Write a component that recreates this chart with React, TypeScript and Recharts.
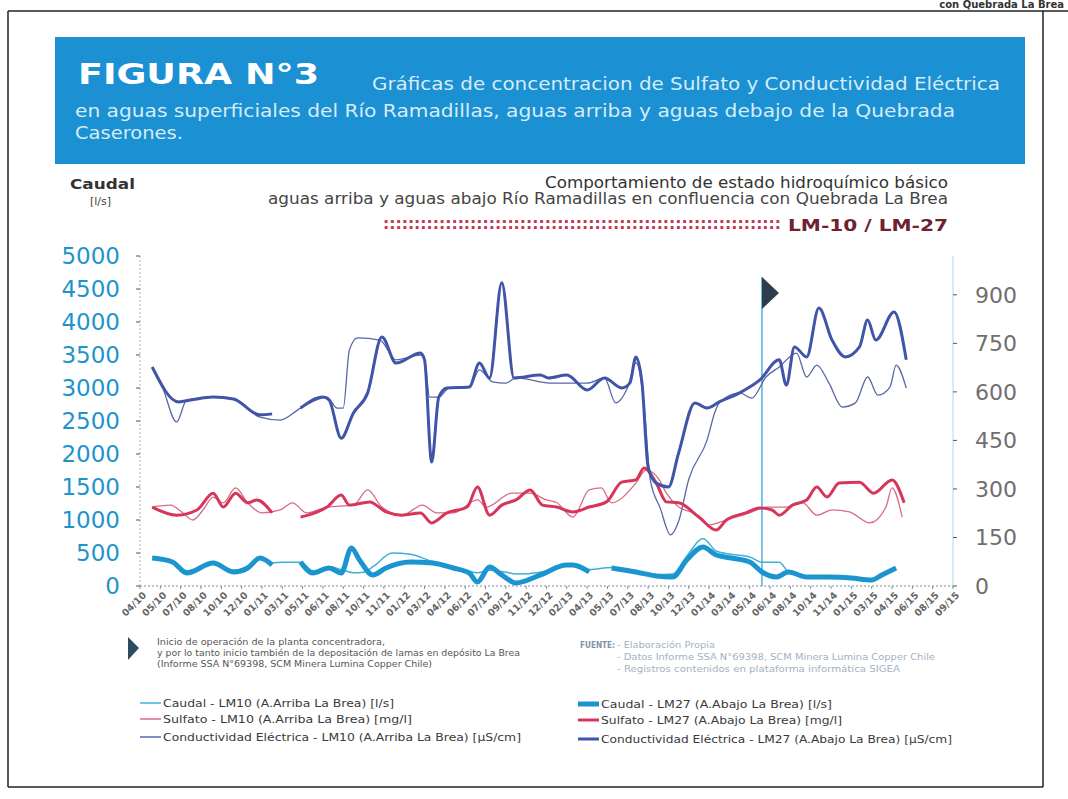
import React from 'react';
import { LineChart, Line, XAxis, YAxis, ReferenceLine } from 'recharts';

// etiquetas del eje X (mes/año)
const fechas = [
  '04/10', '05/10', '07/10', '08/10', '10/10', '12/10', '01/11', '03/11', '05/11', '06/11',
  '08/11', '10/11', '11/11', '01/12', '03/12', '04/12', '06/12', '07/12', '09/12', '11/12',
  '12/12', '02/13', '04/13', '05/13', '07/13', '08/13', '10/13', '12/13', '01/14', '03/14',
  '05/14', '06/14', '08/14', '10/14', '11/14', '01/15', '03/15', '04/15', '06/15', '08/15', '09/15'
];
const posFechas = fechas.map((_, i) => i);

const ticksCaudal = [0, 500, 1000, 1500, 2000, 2500, 3000, 3500, 4000, 4500, 5000];
const ticksDerecha = [0, 150, 300, 450, 600, 750, 900];

// inicio de operación planta (posición en el eje de fechas)
const inicioOperacion = 30.6;

// [posición fecha, valor]  -- null corta la línea
type Punto = [number, number | null];

const caudalLM10: Punto[] = [
  [0.6, 440], [1.6, 380], [2.3, 230], [3.6, 350], [4.6, 240], [5.3, 290], [5.9, 410], [6.5, 350],
  [7.0, 360], [7.9, 360], [8.5, 230], [9.3, 290], [10.0, 240], [10.5, 200], [11.0, 210], [11.5, 300],
  [12.4, 500], [13.3, 480], [14.4, 370], [15.4, 300], [16.6, 200], [17.2, 240], [18.0, 210], [18.5, 180],
  [19.7, 210], [21.0, 330], [22.1, 250], [23.2, 280], [24.4, 230], [25.4, 170], [26.2, 180], [26.9, 450],
  [27.7, 720], [28.35, 530], [29.1, 480], [30.0, 440], [30.6, 360], [31.45, 360], [31.9, 210], [32.5, 150]
];

const caudalLM27: Punto[] = [
  [0.6, 424], [1.6, 364], [2.3, 197], [3.6, 348], [4.6, 212], [5.3, 273], [5.9, 424], [6.5, 318],
  [7.2, null],
  [7.9, 364], [8.5, 197], [9.3, 273], [9.9, 197], [10.4, 576], [10.8, 394], [11.45, 167], [12.1, 273],
  [13.3, 364], [14.4, 348], [15.4, 273], [16.2, 197], [16.6, 61], [17.2, 288], [17.8, 167], [18.5, 45],
  [19.7, 167], [21.0, 318], [21.3, 318], [22.1, 212],
  [22.6, null],
  [23.2, 273], [24.4, 212], [25.4, 152], [26.2, 136], [26.9, 394], [27.7, 591], [28.35, 470], [29.1, 424],
  [30.0, 364], [30.6, 212], [31.3, 136], [31.9, 212], [32.8, 136], [33.9, 136], [35.0, 121], [36.0, 91],
  [36.5, 167], [37.2, 273]
];

const sulfatoLM10: Punto[] = [
  [0.6, 244], [1.5, 250], [2.1, 226], [2.6, 204], [3.1, 235], [3.6, 275], [4.1, 257], [4.7, 303],
  [5.3, 257], [6.0, 226], [6.9, 235], [7.5, 257], [8.2, 226], [9.2, 244], [10.5, 250], [11.2, 297],
  [11.9, 244], [12.9, 219], [13.9, 250], [14.6, 226], [15.4, 226], [16.6, 266], [17.05, 244], [18.3, 287],
  [19.2, 287], [20.0, 266], [20.5, 258], [21.3, 213], [22.1, 297], [22.7, 303], [23.2, 257], [24.4, 318],
  [24.9, 358], [25.55, 328], [25.9, 287], [26.5, 244], [27.2, 226], [28.0, 189], [28.85, 204], [30.0, 226],
  [30.8, 244], [31.8, 244], [32.6, 257], [33.3, 219], [34.05, 235], [34.9, 229], [35.9, 195], [36.7, 244],
  [37.0, 303], [37.5, 213]
];

const sulfatoLM27: Punto[] = [
  [0.6, 244], [1.8, 219], [2.8, 235], [3.6, 287], [4.1, 244], [4.7, 287], [5.3, 257], [5.75, 266], [6.5, 226],
  [7.2, null],
  [7.9, 213], [9.2, 244], [9.9, 281], [10.3, 250], [11.3, 260], [12.1, 229], [12.9, 219], [13.8, 226],
  [14.35, 195], [15.1, 226], [16.1, 244], [16.6, 306], [17.2, 219], [17.8, 250], [18.5, 266], [19.2, 297],
  [19.8, 250], [20.5, 244], [21.3, 229], [22.1, 244], [22.95, 260], [23.7, 321], [24.4, 328], [24.8, 365],
  [25.4, 318], [25.9, 260], [26.5, 257], [27.5, 213], [28.35, 173], [28.85, 204], [29.8, 226], [30.5, 241],
  [31.1, 235], [31.45, 219], [32.1, 250], [32.8, 266], [33.3, 306], [33.8, 275], [34.4, 318], [35.4, 321],
  [36.1, 287], [37.0, 328], [37.6, 257]
];

const conductividadLM10: Punto[] = [
  [0.6, 677], [1.1, 615], [1.8, 507], [2.3, 575], [3.6, 584], [4.6, 578], [5.9, 522], [6.9, 513],
  [7.9, 550], [9.2, 584], [9.7, 550], [10.0, 550], [10.3, 729], [10.7, 767], [11.8, 760], [12.6, 699],
  [13.8, 714], [14.0, 699], [14.25, 584], [14.7, 584], [15.2, 612], [16.2, 615], [16.7, 668], [17.35, 631],
  [18.0, 627], [18.5, 643], [20.3, 627], [22.0, 627], [22.85, 643], [23.4, 566], [24.0, 615], [24.4, 690],
  [24.8, 560], [25.1, 330], [25.6, 240], [26.1, 158], [26.5, 200], [27.0, 330], [27.9, 451], [28.3, 540],
  [28.5, 566], [29.5, 597], [30.1, 581], [30.8, 646], [31.45, 677], [32.3, 720], [32.8, 646], [33.3, 683],
  [33.9, 627], [34.55, 553], [35.2, 566], [35.8, 646], [36.3, 590], [36.9, 615], [37.2, 683], [37.7, 612]
];

const conductividadLM27: Punto[] = [
  [0.6, 677], [1.9, 569], [2.5, 575], [3.6, 584], [4.6, 578], [5.9, 529], [6.5, 532],
  [7.2, null],
  [7.9, 550], [9.0, 584], [9.3, 575], [9.9, 457], [10.5, 535], [11.2, 597], [11.9, 770], [12.6, 689],
  [13.8, 720], [14.0, 699], [14.35, 383], [14.7, 584], [15.1, 612], [16.2, 615], [16.7, 689], [17.2, 643],
  [17.8, 937], [18.4, 643], [19.7, 652], [20.1, 643], [21.0, 652], [22.0, 606], [22.85, 643], [23.7, 612],
  [24.1, 627], [24.4, 708], [24.7, 627], [25.0, 368], [25.4, 318], [26.0, 306], [26.5, 411], [27.3, 566],
  [27.9, 550], [28.5, 569], [29.5, 597], [30.5, 637], [31.45, 699], [31.8, 621], [32.2, 739], [32.8, 708],
  [33.4, 859], [34.05, 760], [34.7, 708], [35.4, 739], [35.8, 822], [36.2, 760], [37.1, 847], [37.7, 699]
];

const aFilas = (serie: Punto[]) => serie.map(([t, v]) => ({ t, v }));

const FUENTE = 'DejaVu Sans';

const TickFecha = ({ x, y, payload }: any) => (
  <g transform={`translate(${x + 4},${y + 2})`}>
    <text x={0} y={0} dy={4} textAnchor="end" transform="rotate(-45)" fontSize={9.5}
      fontWeight="bold" fill="#646464" fontFamily={FUENTE}>
      {fechas[payload.value]}
    </text>
  </g>
);

const Bandera = ({ viewBox }: any) => {
  if (!viewBox) return null;
  const { x, y } = viewBox;
  return <polygon points={`${x},${y} ${x + 17},${y + 16} ${x},${y + 32}`} fill="#2c3d4e" />;
};

const leyenda = [
  { texto: 'Caudal - LM10 (A.Arriba La Brea) [l/s]', color: '#3fb0d8', grosor: 1.5, x: 140, y: 703, largo: 231 },
  { texto: 'Sulfato - LM10 (A.Arriba La Brea) [mg/l]', color: '#d86b85', grosor: 1.5, x: 140, y: 719, largo: 249 },
  { texto: 'Conductividad Eléctrica - LM10 (A.Arriba La Brea)  [µS/cm]', color: '#5866a8', grosor: 1.5, x: 140, y: 737, largo: 358 },
  { texto: 'Caudal - LM27 (A.Abajo La Brea) [l/s]', color: '#1b95cf', grosor: 5, x: 578, y: 704, largo: 231 },
  { texto: 'Sulfato - LM27 (A.Abajo La Brea) [mg/l]', color: '#d5365a', grosor: 3, x: 578, y: 720, largo: 241 },
  { texto: 'Conductividad Eléctrica - LM27 (A.Abajo La Brea) [µS/cm]', color: '#4054a8', grosor: 3, x: 578, y: 739, largo: 351 }
];

const Fondo = () => (
  <svg width={1068} height={799} style={{ position: 'absolute', left: 0, top: 0 }}>
    <rect x={0} y={0} width={1068} height={799} fill="#ffffff" />
    <text x={1064} y={8} textAnchor="end" fontSize={10} fontWeight="bold" fill="#333" fontFamily={FUENTE}>
      con Quebrada La Brea
    </text>
    <line x1={8} y1={11} x2={1068} y2={11} stroke="#222" strokeWidth={1.5} />
    <line x1={8} y1={11} x2={8} y2={787} stroke="#222" strokeWidth={1.5} />
    <line x1={8} y1={787} x2={1043} y2={787} stroke="#222" strokeWidth={1.5} />
    <line x1={1043} y1={11} x2={1043} y2={787} stroke="#222" strokeWidth={1.5} />

    {/* encabezado azul */}
    <rect x={55} y={37} width={970} height={127} fill="#1b90d2" />
    <text x={78} y={84} fontSize={29} fontWeight="bold" fill="#ffffff" fontFamily={FUENTE}
      textLength={241} lengthAdjust="spacingAndGlyphs">FIGURA N°3</text>
    <text x={372} y={90} fontSize={17} fill="#d6ecf7" fontFamily={FUENTE}
      textLength={628} lengthAdjust="spacingAndGlyphs">Gráficas de concentracion de Sulfato y Conductividad Eléctrica</text>
    <text x={75} y={117} fontSize={17} fill="#d6ecf7" fontFamily={FUENTE}
      textLength={880} lengthAdjust="spacingAndGlyphs">en aguas superficiales del Río Ramadillas, aguas arriba y aguas debajo de la Quebrada</text>
    <text x={75} y={139} fontSize={17} fill="#d6ecf7" fontFamily={FUENTE}
      textLength={108} lengthAdjust="spacingAndGlyphs">Caserones.</text>

    {/* títulos del gráfico */}
    <text x={70} y={189} fontSize={14} fontWeight="bold" fill="#333" fontFamily={FUENTE}
      textLength={65} lengthAdjust="spacingAndGlyphs">Caudal</text>
    <text x={90} y={205} fontSize={11} fill="#444" fontFamily={FUENTE}>[l/s]</text>
    <text x={545} y={188} fontSize={15} fill="#333" fontFamily={FUENTE}
      textLength={403} lengthAdjust="spacingAndGlyphs">Comportamiento de estado hidroquímico básico</text>
    <text x={268} y={204} fontSize={15} fill="#444" fontFamily={FUENTE}
      textLength={680} lengthAdjust="spacingAndGlyphs">aguas arriba y aguas abajo Río Ramadillas en confluencia con Quebrada La Brea</text>
    <text x={383} y={229} fontSize={15} fontWeight="bold" fill="#c2384f" fontFamily={FUENTE}
      textLength={398} lengthAdjust="spacingAndGlyphs">{':'.repeat(64)}</text>
    <text x={788} y={231} fontSize={16} fontWeight="bold" fill="#6e2130" fontFamily={FUENTE}
      textLength={160} lengthAdjust="spacingAndGlyphs">LM-10  / LM-27</text>

    {/* nota inicio operación */}
    <polygon points="128,637 139,648 128,660" fill="#2c4a60" />
    <text x={157} y={645} fontSize={9} fill="#555" fontFamily={FUENTE}
      textLength={228} lengthAdjust="spacingAndGlyphs">Inicio de operación de la planta concentradora,</text>
    <text x={157} y={656} fontSize={9} fill="#555" fontFamily={FUENTE}
      textLength={363} lengthAdjust="spacingAndGlyphs">y por lo tanto inicio también de la depositación de lamas en depósito La Brea</text>
    <text x={157} y={667} fontSize={9} fill="#555" fontFamily={FUENTE}
      textLength={275} lengthAdjust="spacingAndGlyphs">(Informe SSA N°69398, SCM Minera Lumina Copper Chile)</text>

    {/* fuente */}
    <text x={580} y={648} fontSize={8.5} fontWeight="bold" fill="#8193a6" fontFamily={FUENTE}
      textLength={35} lengthAdjust="spacingAndGlyphs">FUENTE:</text>
    <text x={617} y={648} fontSize={8.5} fill="#a2b2c2" fontFamily={FUENTE}
      textLength={98} lengthAdjust="spacingAndGlyphs">- Elaboración Propia</text>
    <text x={617} y={660} fontSize={8.5} fill="#a2b2c2" fontFamily={FUENTE}
      textLength={318} lengthAdjust="spacingAndGlyphs">- Datos Informe SSA N°69398, SCM Minera Lumina Copper Chile</text>
    <text x={617} y={672} fontSize={8.5} fill="#a2b2c2" fontFamily={FUENTE}
      textLength={283} lengthAdjust="spacingAndGlyphs">- Registros contenidos en plataforma informática SIGEA</text>

    {/* leyenda */}
    {leyenda.map((it) => (
      <g key={it.texto}>
        <line x1={it.x} y1={it.y} x2={it.x + 21} y2={it.y} stroke={it.color} strokeWidth={it.grosor} />
        <text x={it.x + 23} y={it.y + 4} fontSize={11} fill="#3a3a3a" fontFamily={FUENTE}
          textLength={it.largo} lengthAdjust="spacingAndGlyphs">{it.texto}</text>
      </g>
    ))}
  </svg>
);

export default function App() {
  return (
    <div style={{ position: 'absolute', left: 0, top: 0, width: 1068, height: 799, background: '#fff' }}>
      <Fondo />
      <div style={{ position: 'absolute', left: 0, top: 0 }}>
        <LineChart width={1068} height={799} margin={{ top: 256, right: 0, bottom: 173, left: 0 }}>
          <XAxis dataKey="t" type="number" domain={[0, 40]} ticks={posFechas} interval={0}
            allowDataOverflow height={40} tick={<TickFecha />}
            axisLine={{ stroke: '#7d8c9a', strokeDasharray: '2 2' }}
            tickLine={{ stroke: '#7d8c9a' }} tickSize={3} />
          <YAxis yAxisId="izq" domain={[0, 5000]} ticks={ticksCaudal} width={140}
            axisLine={{ stroke: '#8fbfd3', strokeDasharray: '2 2' }} tickLine={{ stroke: '#555' }}
            tickSize={4} tickMargin={16}
            tick={{ fill: '#1e94cc', fontSize: 23, fontFamily: FUENTE }} />
          <YAxis yAxisId="der" orientation="right" domain={[0, 1020]} ticks={ticksDerecha} width={115}
            axisLine={{ stroke: '#a8dcee' }} tickLine={{ stroke: '#555' }}
            tickSize={4} tickMargin={18}
            tick={{ fill: '#6f6f6f', fontSize: 22, fontFamily: FUENTE }} />

          <ReferenceLine yAxisId="der"
            segment={[{ x: inicioOperacion, y: 0 }, { x: inicioOperacion, y: 955 }]}
            stroke="#4db3de" strokeWidth={1.5} label={<Bandera />} />

          <Line yAxisId="izq" data={aFilas(caudalLM10)} dataKey="v" type="monotone" stroke="#3fb0d8"
            strokeWidth={1.5} dot={false} isAnimationActive={false} />
          <Line yAxisId="der" data={aFilas(sulfatoLM10)} dataKey="v" type="monotone" stroke="#d86b85"
            strokeWidth={1.3} dot={false} isAnimationActive={false} />
          <Line yAxisId="der" data={aFilas(conductividadLM10)} dataKey="v" type="monotone" stroke="#5866a8"
            strokeWidth={1.3} dot={false} isAnimationActive={false} />
          <Line yAxisId="izq" data={aFilas(caudalLM27)} dataKey="v" type="monotone" stroke="#1b95cf"
            strokeWidth={5} dot={false} isAnimationActive={false} />
          <Line yAxisId="der" data={aFilas(sulfatoLM27)} dataKey="v" type="monotone" stroke="#d5365a"
            strokeWidth={3} dot={false} isAnimationActive={false} />
          <Line yAxisId="der" data={aFilas(conductividadLM27)} dataKey="v" type="monotone" stroke="#4054a8"
            strokeWidth={3} dot={false} isAnimationActive={false} />
        </LineChart>
      </div>
    </div>
  );
}
